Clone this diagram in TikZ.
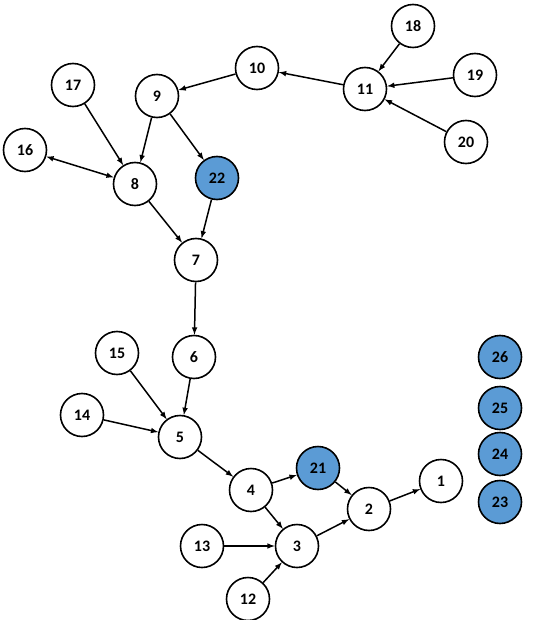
\documentclass[tikz,border=0pt]{standalone}
\usepackage{fontspec}
\setmainfont{Carlito}
\usetikzlibrary{positioning}
\definecolor{hubblue}{RGB}{91,155,213}

\begin{document}
\begin{tikzpicture}[x=1pt, y=-1pt, >=latex,
  every node/.style={draw, circle, line width=1.6pt, minimum size=43pt, inner sep=0pt, font=\bfseries\fontsize{16}{18}\selectfont},
  hub/.style={fill=hubblue},
  link/.style={->, line width=1.5pt}]
\useasboundingbox (0,0) rectangle (537,620);
\node (n18) at (413,26) {18};
\node (n10) at (257,68) {10};
\node (n11) at (365,89) {11};
\node (n19) at (475,75) {19};
\node (n17) at (73,85) {17};
\node (n9) at (157,96) {9};
\node (n20) at (466,142) {20};
\node (n16) at (25,150) {16};
\node (n8) at (135,184) {8};
\node[hub] (n22) at (217,178) {22};
\node (n7) at (196,260) {7};
\node (n15) at (117,353) {15};
\node (n6) at (194,357) {6};
\node (n14) at (82,415) {14};
\node (n5) at (180,437) {5};
\node[hub] (n21) at (318,468) {21};
\node (n4) at (251,490) {4};
\node (n1) at (441,481) {1};
\node (n2) at (369,509) {2};
\node (n13) at (202,546) {13};
\node (n3) at (297,546) {3};
\node (n12) at (248,599) {12};
\node[hub] (n26) at (500,357) {26};
\node[hub] (n25) at (500,408) {25};
\node[hub] (n24) at (500,454) {24};
\node[hub] (n23) at (500,502) {23};
% upper part
\draw[link] (n18) -- (n11);
\draw[link] (n19) -- (n11);
\draw[link] (n20) -- (n11);
\draw[link] (n11) -- (n10);
\draw[link] (n10) -- (n9);
\draw[link] (n9) -- (n8);
\draw[link] (n9) -- (n22);
\draw[link] (n17) -- (n8);
\draw[<->, line width=1.5pt] (n16) -- (n8);
\draw[link] (n8) -- (n7);
\draw[link] (n22) -- (n7);
% lower part
\draw[link] (n7) -- (n6);
\draw[link] (n6) -- (n5);
\draw[link] (n15) -- (n5);
\draw[link] (n14) -- (n5);
\draw[link] (n5) -- (n4);
\draw[link] (n4) -- (n21);
\draw[link] (n4) -- (n3);
\draw[link] (n21) -- (n2);
\draw[link] (n3) -- (n2);
\draw[link] (n2) -- (n1);
\draw[link] (n13) -- (n3);
\draw[link] (n12) -- (n3);
\end{tikzpicture}
\end{document}
